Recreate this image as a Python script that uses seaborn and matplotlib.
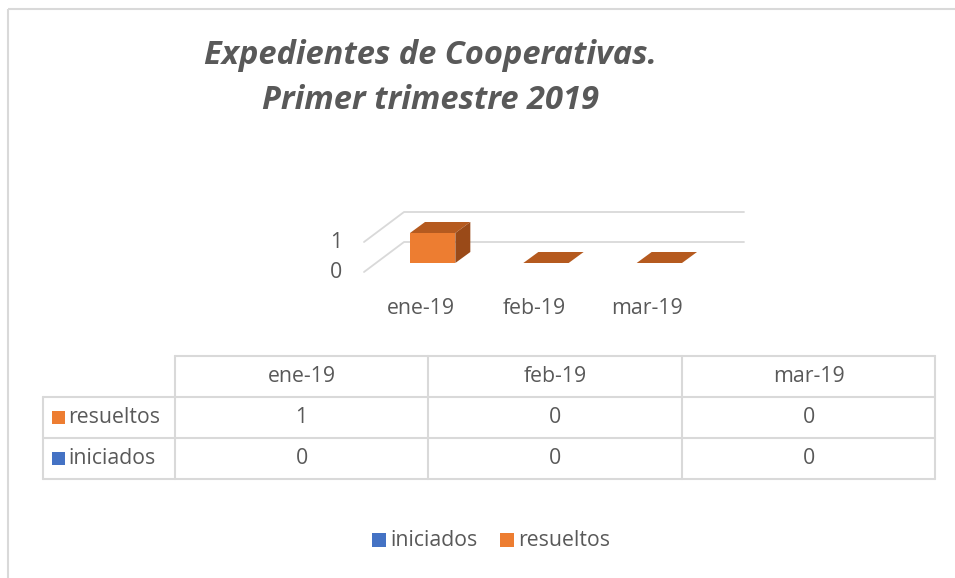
import pandas as pd
import seaborn as sns
import matplotlib.pyplot as plt
from matplotlib.patches import Polygon, Rectangle

# datos
meses = ["ene-19", "feb-19", "mar-19"]
resueltos = [1, 0, 0]
iniciados = [0, 0, 0]
titulo = "Expedientes de Cooperativas.\nPrimer trimestre 2019"

naranja = "#ED7D31"
naranja_top = "#B55A1F"
naranja_lado = "#9A4A18"
azul = "#4472C4"
gris_txt = "#595959"
gris_lin = "#D9D9D9"

sns.set_theme(style="white")
plt.rcParams["font.family"] = ["Open Sans", "DejaVu Sans"]

W, H = 955, 578
fig = plt.figure(figsize=(W / 100, H / 100), dpi=100)

# capa base en pixeles (y hacia abajo)
base = fig.add_axes([0, 0, 1, 1], zorder=0)
base.set_xlim(0, W)
base.set_ylim(H, 0)
base.axis("off")

# borde del area del grafico
base.add_patch(Rectangle((8, 9), W + 20, H + 20, fill=False, ec=gris_lin, lw=1.5))

# titulo
base.text(430, 78, titulo, ha="center", va="center", fontsize=23.5,
          fontweight="bold", fontstyle="italic", color=gris_txt, linespacing=1.5)

# eje de las barras (plano frontal de la barra)
ax = fig.add_axes([376 / W, 1 - 263 / H, 340 / W, 30 / H], zorder=1)
ax.patch.set_alpha(0)
df = pd.DataFrame({"mes": meses, "resueltos": resueltos})
sns.barplot(data=df, x="mes", y="resueltos", color=naranja, width=0.4,
            saturation=1, linewidth=0, ax=ax)
ax.set_xlim(-0.5, 2.5)
ax.set_ylim(0, 1)
ax.axis("off")


def to_px(x, y):
    d = ax.transData.transform((x, y))
    return base.transData.inverted().transform(d)


FRONT = (-12, 9)
BACK = (28, -21)
PROF = (15, -11)
fs = 15.3

# paredes y lineas de division
for v in [0, 1]:
    p = to_px(-0.5, v)
    e = to_px(2.5, v)
    xs = [p[0] + FRONT[0], p[0] + BACK[0], e[0] + BACK[0]]
    ys = [p[1] + FRONT[1], p[1] + BACK[1], e[1] + BACK[1]]
    base.plot(xs, ys, color=gris_lin, lw=1.3, zorder=1)
    base.text(p[0] + FRONT[0] - 22, p[1] + FRONT[1], str(v), ha="right",
              va="center", fontsize=fs, color=gris_txt)

for i, m in enumerate(meses):
    p = to_px(i, 0)
    base.text(p[0] + FRONT[0], 309, m, ha="center", va="center",
              fontsize=fs, color=gris_txt)

# caras superior y lateral de las barras
for patch in ax.patches:
    x0, w, h = patch.get_x(), patch.get_width(), patch.get_height()
    tl = to_px(x0, h)
    tr = to_px(x0 + w, h)
    br = to_px(x0 + w, 0)
    top = [tl, tr, (tr[0] + PROF[0], tr[1] + PROF[1]), (tl[0] + PROF[0], tl[1] + PROF[1])]
    base.add_patch(Polygon(top, closed=True, fc=naranja_top, ec="none", zorder=3))
    if h > 0:
        lado = [tr, br, (br[0] + PROF[0], br[1] + PROF[1]), (tr[0] + PROF[0], tr[1] + PROF[1])]
        base.add_patch(Polygon(lado, closed=True, fc=naranja_lado, ec="none", zorder=3))

# tabla de datos
col_x = [43, 175, 428, 682, 935]
row_y = [356, 397, 438, 479]
lw_t = 1.5
base.plot([col_x[1], col_x[-1]], [row_y[0]] * 2, color=gris_lin, lw=lw_t)
for y in row_y[1:]:
    base.plot([col_x[0], col_x[-1]], [y, y], color=gris_lin, lw=lw_t)
base.plot([col_x[0]] * 2, [row_y[1], row_y[-1]], color=gris_lin, lw=lw_t)
for x in col_x[1:]:
    base.plot([x, x], [row_y[0], row_y[-1]], color=gris_lin, lw=lw_t)

for j, m in enumerate(meses):
    cx = (col_x[j + 1] + col_x[j + 2]) / 2
    base.text(cx, (row_y[0] + row_y[1]) / 2, m, ha="center", va="center",
              fontsize=fs, color=gris_txt)

filas = [("resueltos", resueltos, naranja), ("iniciados", iniciados, azul)]
for k, (nombre, vals, col) in enumerate(filas):
    cy = (row_y[k + 1] + row_y[k + 2]) / 2
    base.add_patch(Rectangle((52, cy - 7), 13, 13, fc=col, ec="none"))
    base.text(68, cy, nombre, ha="left", va="center", fontsize=fs, color=gris_txt)
    for j, v in enumerate(vals):
        cx = (col_x[j + 1] + col_x[j + 2]) / 2
        base.text(cx, cy, str(v), ha="center", va="center", fontsize=fs, color=gris_txt)

# leyenda
for x0, nombre, col in [(372, "iniciados", azul), (500, "resueltos", naranja)]:
    base.add_patch(Rectangle((x0, 533), 14, 14, fc=col, ec="none"))
    base.text(x0 + 18, 540, nombre, ha="left", va="center", fontsize=fs, color=gris_txt)

fig.savefig("out.png", dpi=100)
